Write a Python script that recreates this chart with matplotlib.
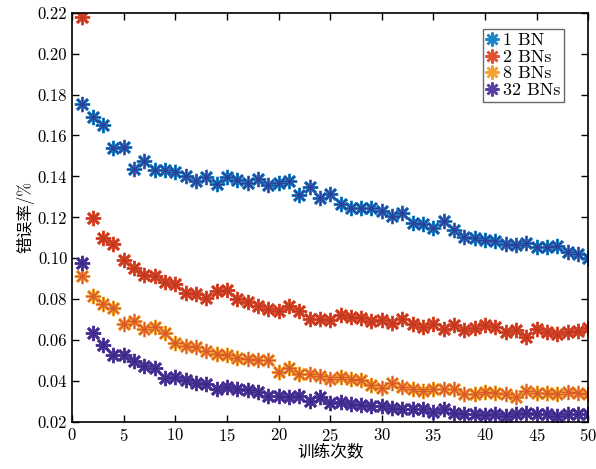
import numpy as np
import matplotlib
matplotlib.use('Agg')
import matplotlib.pyplot as plt
from matplotlib.lines import Line2D
from matplotlib.ticker import FormatStrFormatter

plt.rcParams['font.family'] = ['cmr10', 'Noto Sans CJK SC', 'DejaVu Sans']
plt.rcParams['axes.formatter.use_mathtext'] = True

epochs = np.arange(1, 51)

# error rates
bn1 = [0.1755, 0.169, 0.1652, 0.154, 0.1545, 0.1437, 0.1473, 0.1432, 0.143, 0.142,
       0.1403, 0.1376, 0.1397, 0.1363, 0.1397, 0.1385, 0.1368, 0.1386, 0.1357, 0.1366,
       0.1377, 0.1307, 0.135, 0.1297, 0.1313, 0.1266, 0.1248, 0.1248, 0.1248, 0.123,
       0.1208, 0.1222, 0.1172, 0.1168, 0.1148, 0.1182, 0.1138, 0.1105, 0.1098, 0.109,
       0.1085, 0.1072, 0.1065, 0.1075, 0.1053, 0.1056, 0.1059, 0.1032, 0.1023, 0.1002]
bn2 = [0.2180, 0.1197, 0.110, 0.107, 0.0994, 0.0953, 0.092, 0.0916, 0.0885, 0.0875,
       0.0831, 0.0826, 0.0807, 0.0839, 0.0847, 0.0799, 0.0785, 0.0769, 0.0753, 0.0741,
       0.0766, 0.0741, 0.0704, 0.0704, 0.0700, 0.0725, 0.0714, 0.0709, 0.0696, 0.0700,
       0.0685, 0.0704, 0.0677, 0.0663, 0.0677, 0.0656, 0.0672, 0.0649, 0.0660, 0.0672,
       0.0665, 0.0641, 0.0652, 0.0617, 0.0657, 0.0639, 0.0631, 0.0641, 0.0644, 0.0660]
bn8 = [0.0916, 0.0815, 0.0779, 0.0758, 0.0681, 0.0693, 0.0656, 0.0663, 0.0636, 0.0587,
       0.0574, 0.0568, 0.0546, 0.0535, 0.0530, 0.0514, 0.0506, 0.0502, 0.0501, 0.0444,
       0.0462, 0.0436, 0.0433, 0.0424, 0.0412, 0.0421, 0.0412, 0.0405, 0.0379, 0.0368,
       0.0389, 0.0372, 0.0362, 0.0351, 0.0363, 0.0363, 0.0363, 0.0335, 0.0335, 0.0346,
       0.0343, 0.0335, 0.0324, 0.0351, 0.0343, 0.0343, 0.0335, 0.0346, 0.0343, 0.0338]
bn32 = [0.0978, 0.0636, 0.0579, 0.0530, 0.0530, 0.0498, 0.0473, 0.0465, 0.0417, 0.0421,
        0.0408, 0.0392, 0.0384, 0.0363, 0.0373, 0.0362, 0.0356, 0.0346, 0.0327, 0.0327,
        0.0324, 0.0327, 0.0302, 0.0324, 0.0291, 0.0298, 0.0286, 0.0283, 0.0278, 0.0278,
        0.0267, 0.0266, 0.0265, 0.0262, 0.0249, 0.0262, 0.0246, 0.0241, 0.0238, 0.0233,
        0.0238, 0.0229, 0.0238, 0.0246, 0.0238, 0.0238, 0.0229, 0.0238, 0.0238, 0.0238]

labels = ['1 BN', '2 BNs', '8 BNs', '32 BNs']
# outer / inner stroke colours of the asterisks
outer = ['#1A86C8', '#DF4F30', '#F2A22E', '#5A3FA2']
inner = ['#2C3F98', '#C2381F', '#D9592A', '#3B2A8A']

fig = plt.figure(figsize=(5.96, 4.69), dpi=100)
ax = fig.add_axes([0.121, 0.1, 0.866, 0.873])

star = (8, 2, 0)
handles = []
for vals, lab, c1, c2 in zip([bn1, bn2, bn8, bn32], labels, outer, inner):
    ax.plot(epochs, vals, ls='none', color=c1, marker=star, ms=11, mew=2.0)
    ax.plot(epochs, vals, ls='none', color=c2, marker=star, ms=10, mew=0.8)
    handles.append(Line2D([], [], color=c1, ls='none', marker=star, ms=10, mew=1.8, label=lab))

ax.set_xlim(0, 50)
ax.set_ylim(0.02, 0.22)
ax.set_xticks(np.arange(0, 51, 5))
ax.set_yticks(np.arange(0.02, 0.221, 0.02))
ax.yaxis.set_major_formatter(FormatStrFormatter('%.2f'))
ax.tick_params(direction='in', top=True, right=True, labelsize=12, length=5, width=1)
for s in ax.spines.values():
    s.set_linewidth(1.2)

ax.set_xlabel('训练次数', fontsize=12, labelpad=0)
ax.set_ylabel('错误率/%', fontsize=12, labelpad=2)

leg = ax.legend(handles=handles, loc='upper right', bbox_to_anchor=(0.953, 0.96),
                fontsize=13, frameon=True, fancybox=False, edgecolor='#444444',
                handlelength=0.6, handletextpad=0.3, borderpad=0.2, labelspacing=0.05,
                borderaxespad=0)
leg.get_frame().set_linewidth(1.0)

fig.savefig('out.png', dpi=100)
